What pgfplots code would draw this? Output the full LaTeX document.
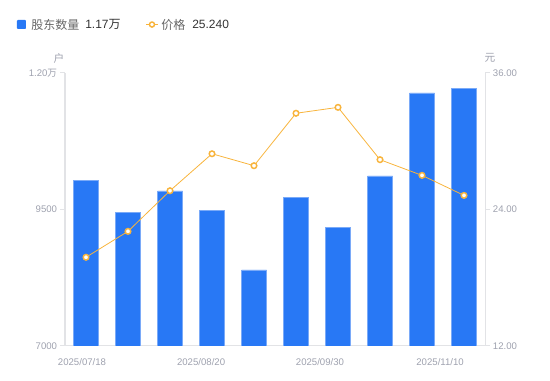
\documentclass[border=0pt]{standalone}
\usepackage{pgfplots}
\pgfplotsset{compat=1.18}
\usepackage{fontspec}
\setmainfont{Liberation Sans}
\newfontfamily\cjk{Noto Sans CJK SC}
\definecolor{barblue}{HTML}{2878F5}
\definecolor{baredge}{HTML}{7AAAF8}
\definecolor{lineorange}{HTML}{F8B43C}
\definecolor{tickgray}{HTML}{9EA1AE}
\definecolor{axgray}{HTML}{E2E3E6}
\definecolor{legtext}{HTML}{666666}
\definecolor{legval}{HTML}{333333}
\pgfplotstableread{
x holders price
0 10040 19.80
1 9441 22.08
2 9839 25.65
3 9485 28.90
4 8392 27.85
5 9723 32.46
6 9174 32.98
7 10114 28.38
8 11634 27.00
9 11725 25.24
}\datatable
\begin{document}
\begin{tikzpicture}
\useasboundingbox (-48.75pt,-26.25pt) rectangle (363.75pt,259.5pt);
\pgfplotsset{
  common/.style={
    scale only axis, width=315pt, height=204.75pt,
    at={(0,0)}, anchor=south west,
    xmin=-0.5, xmax=9.5,
    axis line style={draw=axgray, line width=0.75pt},
    tick style={draw=axgray, line width=0.75pt},
    major tick length=3.75pt, tick align=outside,
    ticklabel style={font=\fontsize{7.2}{8}\selectfont, text=tickgray},
    /pgf/number format/assume math mode=true,
    scaled ticks=false,
  }
}
\begin{axis}[common,
  ymin=7000, ymax=12000,
  axis x line*=bottom, axis y line*=left,
  ytick={7000,9500,12000},
  yticklabels={7000,9500,{1.20{\cjk 万}}},
  yticklabel style={inner sep=0pt, xshift=-2pt},
  xtick={-0.095,2.74,5.57,8.43},
  xticklabels={2025/07/18,2025/08/20,2025/09/30,2025/11/10},
  x tick style={draw=none},
  xticklabel style={inner sep=0pt, yshift=-5.5pt},
]
\addplot[ybar, bar width=18.75pt, bar shift=0pt, fill=barblue, draw=baredge, line width=0.5pt]
  table[x=x, y=holders] {\datatable};
\end{axis}
\begin{axis}[common,
  ymin=12, ymax=36,
  axis x line=none, axis y line*=right,
  ytick={12,24,36},
  yticklabel={\pgfmathprintnumber[fixed,fixed zerofill,precision=2]{\tick}},
  yticklabel style={inner sep=0pt, xshift=2pt},
]
\addplot[color=lineorange, line width=0.6pt, mark=*, mark size=2.1pt,
  mark options={fill=white, draw=lineorange, line width=1.1pt}]
  table[x=x, y=price] {\datatable};
\end{axis}
% units
\node[font=\cjk\fontsize{8}{9}\selectfont, text=tickgray] at (-4.5pt,216pt) {户};
\node[font=\cjk\fontsize{8}{9}\selectfont, text=tickgray] at (318.75pt,216pt) {元};
% legend
\fill[barblue, rounded corners=0.6pt] (-36pt,237.75pt) rectangle (-29.25pt,244.5pt);
\node[anchor=west, inner sep=0pt, font=\cjk\fontsize{9}{10}\selectfont, text=legtext] at (-25.5pt,240.9pt) {股东数量};
\node[anchor=west, inner sep=0pt, font=\fontsize{9}{10}\selectfont, text=legval] at (15pt,240.9pt) {1.17{\cjk 万}};
\draw[lineorange, line width=0.9pt] (60.75pt,241.1pt) -- (69.75pt,241.1pt);
\draw[lineorange, fill=white, line width=1.1pt] (65.25pt,241.1pt) circle (1.9pt);
\node[anchor=west, inner sep=0pt, font=\cjk\fontsize{9}{10}\selectfont, text=legtext] at (72pt,240.9pt) {价格};
\node[anchor=west, inner sep=0pt, font=\fontsize{9}{10}\selectfont, text=legval] at (95.25pt,240.9pt) {25.240};
\end{tikzpicture}
\end{document}
